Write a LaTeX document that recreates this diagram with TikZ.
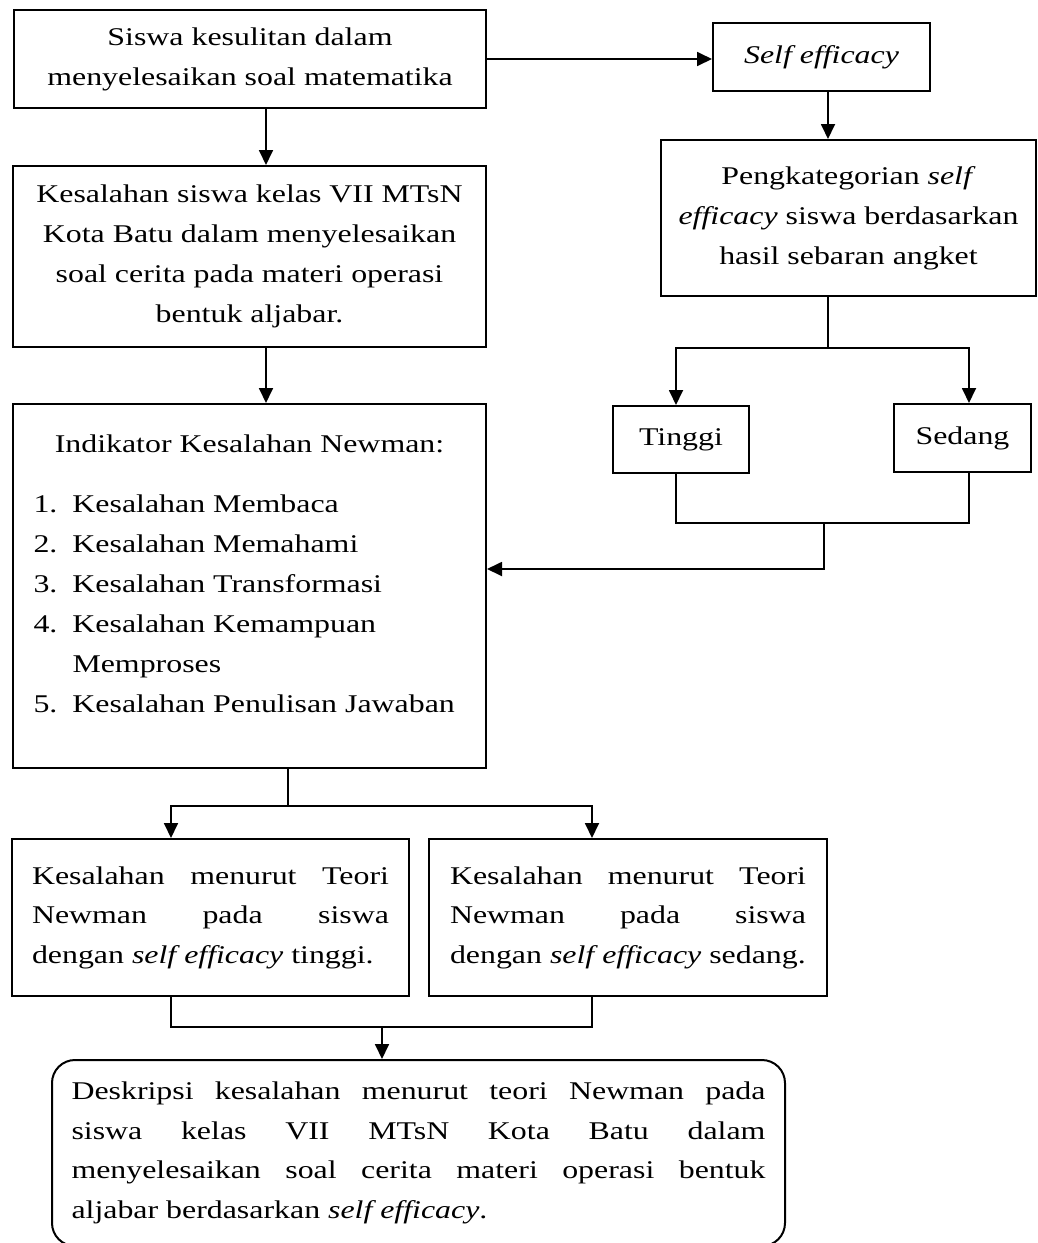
\documentclass[tikz,border=0pt]{standalone}
\usepackage{fontspec}
\setmainfont[FakeStretch=1.25]{Liberation Serif}
\usetikzlibrary{arrows.meta}
\newcommand{\jpar}[2]{\parbox{#1}{\tolerance=10000\hyphenpenalty=10000\relax #2}}
\begin{document}
\begin{tikzpicture}[x=1pt,y=-1pt,
  box/.style={draw, line width=2pt, inner sep=0pt, align=center,
    font=\fontsize{25.5}{40}\selectfont},
  jbox/.style={box, font=\fontsize{25.5}{39.5}\selectfont},
  conn/.style={line width=1.8pt},
  arr/.style={conn, -{Triangle[length=15pt,width=14pt]}}]
\useasboundingbox (0,0) rectangle (1038,1243);

% nodes
\node[box, minimum width=472pt, minimum height=98pt] (b1) at (250,59)
  {Siswa kesulitan dalam\\menyelesaikan soal matematika};
\node[box, minimum width=473pt, minimum height=181pt] (b2) at (249.5,256.5)
  {Kesalahan siswa kelas VII MTsN\\Kota Batu dalam menyelesaikan\\soal cerita pada materi operasi\\bentuk aljabar.};
\node[box, minimum width=473pt, minimum height=364pt] (b3) at (249.5,586)
  {\parbox[c][302pt][t]{432pt}{\centering Indikator Kesalahan Newman:\par\vspace{20pt}\raggedright
   \makebox[39pt][l]{1.}Kesalahan Membaca\\
   \makebox[39pt][l]{2.}Kesalahan Memahami\\
   \makebox[39pt][l]{3.}Kesalahan Transformasi\\
   \makebox[39pt][l]{4.}Kesalahan Kemampuan\\
   \hspace*{39pt}Memproses\\
   \makebox[39pt][l]{5.}Kesalahan Penulisan Jawaban}};
\node[box, minimum width=217pt, minimum height=68pt] (se) at (821.5,57)
  {\textit{Self efficacy}};
\node[box, minimum width=375pt, minimum height=156pt] (peng) at (848.5,218)
  {Pengkategorian \textit{self}\\\textit{efficacy} siswa berdasarkan\\hasil sebaran angket};
\node[box, minimum width=136pt, minimum height=67pt] (ti) at (681,439.5) {Tinggi};
\node[box, minimum width=137pt, minimum height=68pt] (sd) at (962.5,438) {Sedang};
\node[jbox, minimum width=397pt, minimum height=157pt] (lb) at (210.5,917.5)
  {\jpar{357pt}{Kesalahan menurut Teori\linebreak Newman pada siswa\linebreak dengan \textit{self efficacy} tinggi.}};
\node[jbox, minimum width=398pt, minimum height=157pt] (rb) at (628,917.5)
  {\jpar{356pt}{Kesalahan menurut Teori\linebreak Newman pada siswa\linebreak dengan \textit{self efficacy} sedang.}};
\node[jbox, rounded corners=23pt, minimum width=733pt, minimum height=186pt] (fin) at (418.5,1153)
  {\jpar{694pt}{Deskripsi kesalahan menurut teori Newman pada\linebreak siswa kelas VII MTsN Kota Batu dalam\linebreak menyelesaikan soal cerita materi operasi bentuk\linebreak aljabar berdasarkan \textit{self efficacy}.}};

% junction coordinates
\coordinate (x1) at (266,0);
\coordinate (j1) at (828,348);
\coordinate (tA) at (676,348);
\coordinate (sA) at (969,348);
\coordinate (m1) at (824,523);
\coordinate (m2) at (824,569);
\coordinate (k1) at (288,806);
\coordinate (kL) at (171,806);
\coordinate (kR) at (592,806);
\coordinate (n1) at (382,1027);

% connectors
\draw[arr] (b1.south -| x1) -- (b2.north -| x1);
\draw[arr] (b2.south -| x1) -- (b3.north -| x1);
\draw[arr] (b1.east) -- (b1.east -| se.west);
\draw[arr] (se.south -| j1) -- (peng.north -| j1);
\draw[conn] (peng.south -| j1) -- (j1);
\draw[arr] (j1) -| (ti.north -| tA);
\draw[arr] (j1) -| (sd.north -| sA);
\draw[conn] (ti.south -| tA) |- (m1);
\draw[conn] (sd.south -| sA) |- (m1);
\draw[arr] (m1) -- (m2) -- (m2 -| b3.east);
\draw[conn] (b3.south -| k1) -- (k1);
\draw[arr] (k1) -| (lb.north -| kL);
\draw[arr] (k1) -| (rb.north -| kR);
\draw[conn] (lb.south -| kL) |- (n1);
\draw[conn] (rb.south -| kR) |- (n1);
\draw[arr] (n1) -- (fin.north -| n1);
\end{tikzpicture}
\end{document}
